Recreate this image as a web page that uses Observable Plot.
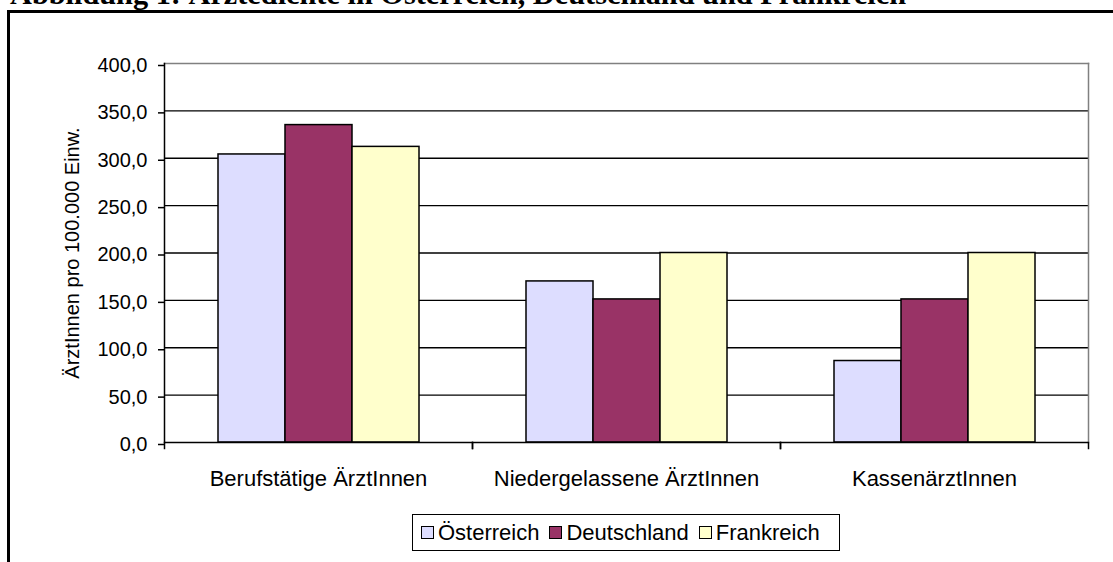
<!DOCTYPE html>
<html><head><meta charset="utf-8">
<script src="https://cdn.jsdelivr.net/npm/d3@7"></script>
<script src="https://cdn.jsdelivr.net/npm/@observablehq/plot@0.6"></script>
<style>
body{margin:0;background:#fff;overflow:hidden}
#wrap{position:relative;width:1113px;height:562px;overflow:hidden;background:#fff}
#frame{position:absolute;left:7px;top:10px;width:1200px;height:700px;border:3px solid #000;box-sizing:border-box}
#title{position:absolute;left:10px;top:-21px;font:bold 30.3px/30px "Liberation Serif","Times New Roman",serif;white-space:nowrap;color:#000}
#chart{position:absolute;left:0;top:0}
#legend{position:absolute;left:412px;top:514px;width:428px;height:37px;border:1.5px solid #000;box-sizing:border-box;display:flex;align-items:center;padding-left:8px;font:22px "Liberation Sans",Arial,sans-serif;color:#000;background:#fff}
.item{display:flex;align-items:center;margin-right:10px}
.sw{width:13px;height:13px;border:1.5px solid #000;box-sizing:border-box;margin-right:4px}
</style>
</head><body>
<div id="wrap">
  <div id="frame"></div>
  <div id="title">Abbildung 1: Ärztedichte in Österreich, Deutschland und Frankreich</div>
  <div id="chart"></div>
  <div id="legend"></div>
</div>
<script>
const categories = ["Berufstätige ÄrztInnen", "Niedergelassene ÄrztInnen", "KassenärztInnen"];
const countries = ["Österreich", "Deutschland", "Frankreich"];
const oesterreich = [304, 170, 86];
const deutschland = [335, 151, 151];
const frankreich = [312, 200, 200];
const colors = ["#DDDDFF", "#993366", "#FFFFCC"];
const yTicks = [0, 50, 100, 150, 200, 250, 300, 350, 400];
const yTitle = "ÄrztInnen pro 100.000 Einw.";

const series = [oesterreich, deutschland, frankreich];
const rows = categories.flatMap((c, i) => countries.map((k, j) => ({category: c, country: k, value: series[j][i]})));

const fmt = d => d.toFixed(1).replace(".", ",");

const chart = Plot.plot({
  width: 1113,
  height: 562,
  marginLeft: 163,
  marginRight: 24,
  marginTop: 63,
  marginBottom: 120,
  style: {fontFamily: "'Liberation Sans', Arial, sans-serif", fontSize: "20px", color: "#000", background: "transparent", overflow: "visible"},
  fx: {domain: categories, padding: 0, label: null},
  x: {domain: countries, paddingInner: 0, paddingOuter: 0.78, axis: null},
  y: {domain: [0, 400], label: null},
  color: {domain: countries, range: colors},
  marks: [
    Plot.gridY(yTicks.filter(t => t > 0 && t < 400), {stroke: "#000", strokeOpacity: 1, strokeWidth: 1.3}),
    Plot.frame({facet: "super", anchor: "top", stroke: "#808080", strokeWidth: 1.5}),
    Plot.frame({facet: "super", anchor: "right", stroke: "#808080", strokeWidth: 1.5}),
    Plot.barY(rows, {fx: "category", x: "country", y: "value", fill: "country", stroke: "#000", strokeWidth: 1.5}),
    Plot.ruleY([0], {stroke: "#000", strokeWidth: 1.5}),
    Plot.frame({facet: "super", anchor: "left", stroke: "#000", strokeWidth: 1.5}),
    Plot.frame({anchor: "left", stroke: "#000", strokeWidth: 1.5, insetTop: 379, insetBottom: -6}),
    Plot.frame({anchor: "right", stroke: "#000", strokeWidth: 1.5, insetTop: 379, insetBottom: -6}),
    Plot.axisY({ticks: yTicks, tickFormat: fmt, tickSize: 6, tickPadding: 11, fontSize: 20, dy: 2,
      stroke: "#000", strokeWidth: 1.5, strokeOpacity: 1,
      label: yTitle, labelAnchor: "center", labelOffset: 100, labelArrow: "none"}),
    Plot.axisFx({anchor: "bottom", tickSize: 0, tickPadding: 28, fontSize: 22, label: null})
  ]
});
document.getElementById("chart").appendChild(chart);

const legend = document.getElementById("legend");
countries.forEach((k, j) => {
  const item = document.createElement("div");
  item.className = "item";
  const sw = document.createElement("span");
  sw.className = "sw";
  sw.style.background = colors[j];
  const t = document.createElement("span");
  t.textContent = k;
  item.appendChild(sw);
  item.appendChild(t);
  legend.appendChild(item);
});
</script>
</body></html>
